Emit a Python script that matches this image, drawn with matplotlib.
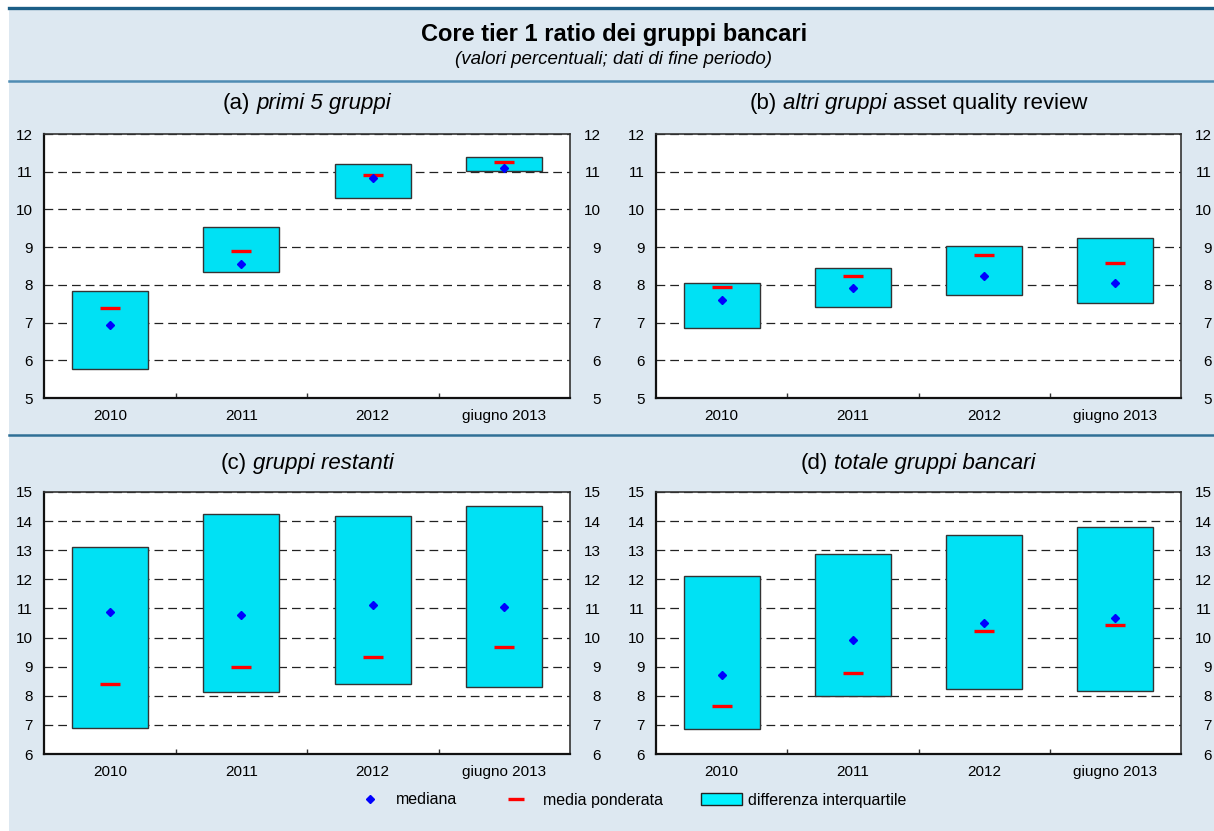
import matplotlib
matplotlib.use('Agg')
import matplotlib.pyplot as plt
import numpy as np
from matplotlib.lines import Line2D
from matplotlib.patches import Patch, Rectangle

plt.rcParams['font.family'] = ['Liberation Sans', 'DejaVu Sans']

# data
categories = ['2010', '2011', '2012', 'giugno 2013']

a_q1 = [5.77, 8.34, 10.29, 11.01]
a_q3 = [7.83, 9.54, 11.20, 11.40]
a_mean = [7.39, 8.89, 10.92, 11.25]
a_median = [6.94, 8.55, 10.84, 11.09]

b_q1 = [6.85, 7.40, 7.74, 7.53]
b_q3 = [8.06, 8.44, 9.04, 9.23]
b_mean = [7.93, 8.23, 8.79, 8.58]
b_median = [7.59, 7.92, 8.24, 8.04]

c_q1 = [6.90, 8.14, 8.39, 8.30]
c_q3 = [13.12, 14.24, 14.19, 14.51]
c_mean = [8.41, 8.99, 9.34, 9.67]
c_median = [10.87, 10.76, 11.11, 11.06]

d_q1 = [6.87, 7.99, 8.23, 8.16]
d_q3 = [12.13, 12.87, 13.52, 13.81]
d_mean = [7.66, 8.79, 10.22, 10.44]
d_median = [8.71, 9.90, 10.50, 10.66]

# panel titles as (text, style) pieces
titles = [
    [('(a)', 'normal'), ('primi 5 gruppi', 'italic')],
    [('(b)', 'normal'), ('altri gruppi', 'italic'), ('asset quality review', 'normal')],
    [('(c)', 'normal'), ('gruppi restanti', 'italic')],
    [('(d)', 'normal'), ('totale gruppi bancari', 'italic')],
]

panels = [
    (a_q1, a_q3, a_mean, a_median, (5, 12)),
    (b_q1, b_q3, b_mean, b_median, (5, 12)),
    (c_q1, c_q3, c_mean, c_median, (6, 15)),
    (d_q1, d_q3, d_mean, d_median, (6, 15)),
]

BG = '#dde8f1'
CYAN = '#00e1f4'
W, H = 1214, 831

fig = plt.figure(figsize=(12.14, 8.31), dpi=100, facecolor='white')
renderer = fig.canvas.get_renderer()


def mixed_title(xc, y, parts, size):
    """Center a title made of normal/italic pieces around xc (figure fraction)"""
    probe1 = fig.text(0, 0, 'x x', fontsize=size)
    probe2 = fig.text(0, 0, 'xx', fontsize=size)
    space = probe1.get_window_extent(renderer).width - probe2.get_window_extent(renderer).width
    probe1.remove()
    probe2.remove()
    texts = [fig.text(0, y, s, style=st, fontsize=size, va='center', ha='left') for s, st in parts]
    widths = [t.get_window_extent(renderer).width for t in texts]
    total = sum(widths) + space * (len(texts) - 1)
    x0 = xc * W - total / 2
    for t, w in zip(texts, widths):
        t.set_x(x0 / W)
        x0 += w + space


# background panel and separators
fig.add_artist(Rectangle((9 / W, 0), 1 - 9 / W, 1 - 9 / H, transform=fig.transFigure,
                         facecolor=BG, edgecolor='none', zorder=-10))
fig.add_artist(Line2D([9 / W, 1], [1 - 7.5 / H] * 2, transform=fig.transFigure,
                      color='#1b5e86', lw=2.4))
fig.add_artist(Line2D([9 / W, 1], [1 - 81 / H] * 2, transform=fig.transFigure,
                      color='#4f8cb3', lw=1.8))
fig.add_artist(Line2D([9 / W, 1], [1 - 435 / H] * 2, transform=fig.transFigure,
                      color='#2f6f96', lw=1.8))

fig.text(0.506, 1 - 34 / H, 'Core tier 1 ratio dei gruppi bancari', ha='center', va='center',
         fontsize=17, fontweight='bold')
fig.text(0.505, 1 - 59 / H, '(valori percentuali; dati di fine periodo)', ha='center', va='center',
         fontsize=13.5, style='italic')

lefts = [44 / W, 656 / W]
widths = [526 / W, 525 / W]
bottoms = [1 - 398 / H, 1 - 754 / H]
heights = [264 / H, 262 / H]
title_y = [1 - 104 / H, 1 - 463 / H]

x = np.arange(len(categories))

for i, (q1, q3, mean, median, ylim) in enumerate(panels):
    r, c = divmod(i, 2)
    ax = fig.add_axes([lefts[c], bottoms[r], widths[c], heights[r]])
    ax.set_facecolor('white')
    ax.set_axisbelow(True)

    q1 = np.array(q1)
    q3 = np.array(q3)
    ax.bar(x, q3 - q1, bottom=q1, width=0.58, color=CYAN, edgecolor='#333333', linewidth=1.0, zorder=2)
    ax.plot(x, mean, linestyle='none', marker='_', markersize=15, markeredgewidth=2.4,
            color='#ff0000', zorder=3)
    ax.plot(x, median, linestyle='none', marker='D', markersize=4.5, color='#0000ff',
            markeredgecolor='#0000ff', zorder=4)

    ax.set_xlim(-0.5, len(categories) - 0.5)
    ax.set_ylim(*ylim)
    ticks = np.arange(ylim[0], ylim[1] + 1)
    ax.set_yticks(ticks)
    ax.yaxis.grid(True, color='#222222', linestyle=(0, (7, 4)), linewidth=0.9)
    ax.tick_params(axis='y', length=0, pad=8, labelsize=11)

    ax.set_xticks(x)
    ax.set_xticklabels(categories)
    ax.set_xticks(x[:-1] + 0.5, minor=True)
    ax.tick_params(axis='x', which='major', length=0, pad=8, labelsize=11)
    ax.tick_params(axis='x', which='minor', direction='in', length=3.5, width=1, color='#333333')

    for side in ['top', 'right']:
        ax.spines[side].set_linewidth(1.2)
        ax.spines[side].set_color('#333333')
    for side in ['left', 'bottom']:
        ax.spines[side].set_linewidth(1.6)
        ax.spines[side].set_color('#111111')

    ax2 = ax.twinx()
    ax2.set_ylim(*ylim)
    ax2.set_yticks(ticks)
    ax2.tick_params(axis='y', length=0, pad=22, labelsize=11)
    for lbl in ax2.get_yticklabels():
        lbl.set_horizontalalignment('right')
    ax2.spines[:].set_visible(False)

    mixed_title(lefts[c] + widths[c] / 2, title_y[r], titles[i], 16)

handles = [
    Line2D([], [], linestyle='none', marker='D', markersize=4.5, color='#0000ff'),
    Line2D([], [], linestyle='none', marker='_', markersize=11, markeredgewidth=2.4, color='#ff0000'),
    Patch(facecolor='#00f2ff', edgecolor='#222222', linewidth=1.0),
]
labels = ['mediana', 'media ponderata', 'differenza interquartile']
fig.legend(handles, labels, loc='center', bbox_to_anchor=(0.517, 1 - 800 / H), ncol=3,
           frameon=False, fontsize=11.5, handlelength=2.6, handleheight=0.7,
           handletextpad=0.35, columnspacing=2.4)

fig.savefig('out.png', dpi=100, facecolor=fig.get_facecolor())
